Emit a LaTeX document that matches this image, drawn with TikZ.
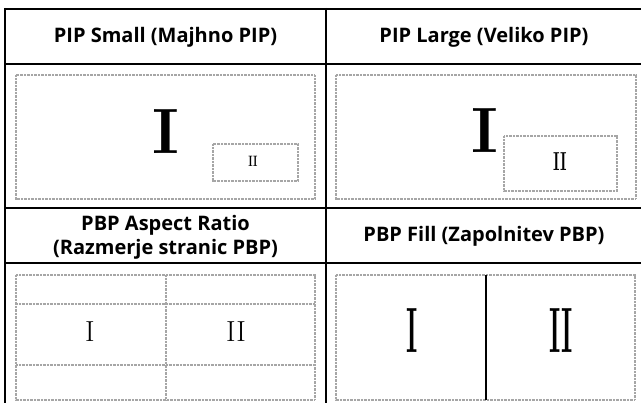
\documentclass[tikz,border=0pt]{standalone}
\usepackage{fontspec}
\setsansfont{Open Sans}
\begin{document}
\begin{tikzpicture}[x=1pt,y=-1pt,
  grid/.style={black,line width=2pt},
  frame/.style={draw=gray!70,line width=1.8pt,dash pattern=on 1pt off 0.4pt},
  head/.style={font=\sffamily\bfseries\fontsize{20}{24}\selectfont,align=center,inner sep=0pt},
  roman/.style={inner sep=0pt,font=\rmfamily}]
\useasboundingbox (0,0) rectangle (641,403);
% grid
\draw[black,line width=2.8pt] (5,9) -- (641,9);
\draw[grid] (5,64.5) -- (641,64.5);
\draw[grid] (5,208) -- (641,208);
\draw[grid] (5,263) -- (641,263);
\draw[grid] (5,8) -- (5,403);
\draw[grid] (326,8) -- (326,403);
% headers
\node[head] (h1) at (165.5,37) {PIP Small (Majhno PIP)};
\node[head] (h2) at (484,37) {PIP Large (Veliko PIP)};
\node[head] (h3) at (165.5,237) {PBP Aspect Ratio\\(Razmerje stranic PBP)};
\node[head] (h4) at (484,236.5) {PBP Fill (Zapolnitev PBP)};
% PIP small
\draw[frame] (16,75) rectangle (315,199);
\draw[frame] (213,144) rectangle (298,181);
\node[roman,font=\rmfamily\bfseries\fontsize{64}{64}\selectfont] (a1) at (166,131.5) {I};
\node[roman,font=\rmfamily\bfseries\fontsize{15}{15}\selectfont] (a2) at (253,161) {\scalebox{0.7}[1]{II}};
% PIP large
\draw[frame] (336,75) rectangle (636,199);
\draw[frame] (504,136) rectangle (617,191);
\node[roman,font=\rmfamily\bfseries\fontsize{64}{64}\selectfont] (b1) at (484.5,131) {I};
\node[roman,font=\rmfamily\bfseries\fontsize{26}{26}\selectfont] (b2) at (560,161.5) {\scalebox{0.6}[1]{II}};
% PBP aspect ratio
\draw[frame] (16,275) rectangle (315,400);
\draw[frame] (166,275) -- (166,400);
\draw[frame] (16,304) -- (315,304);
\draw[frame] (16,365) -- (315,365);
\node[roman,font=\rmfamily\fontsize{29}{29}\selectfont] (c1) at (90,332) {I};
\node[roman,font=\rmfamily\fontsize{29}{29}\selectfont] (c2) at (236,332) {II};
% PBP fill
\draw[frame] (336,275) rectangle (635,400);
\draw[black,line width=1.6pt] (486,275) -- (486,400);
\node[roman,font=\rmfamily\bfseries\fontsize{64}{64}\selectfont] (d1) at (412,330.5) {\scalebox{0.42}[1]{I}};
\node[roman,font=\rmfamily\bfseries\fontsize{64}{64}\selectfont] (d2) at (561,330.5) {\scalebox{0.42}[1]{II}};
\end{tikzpicture}
\end{document}
